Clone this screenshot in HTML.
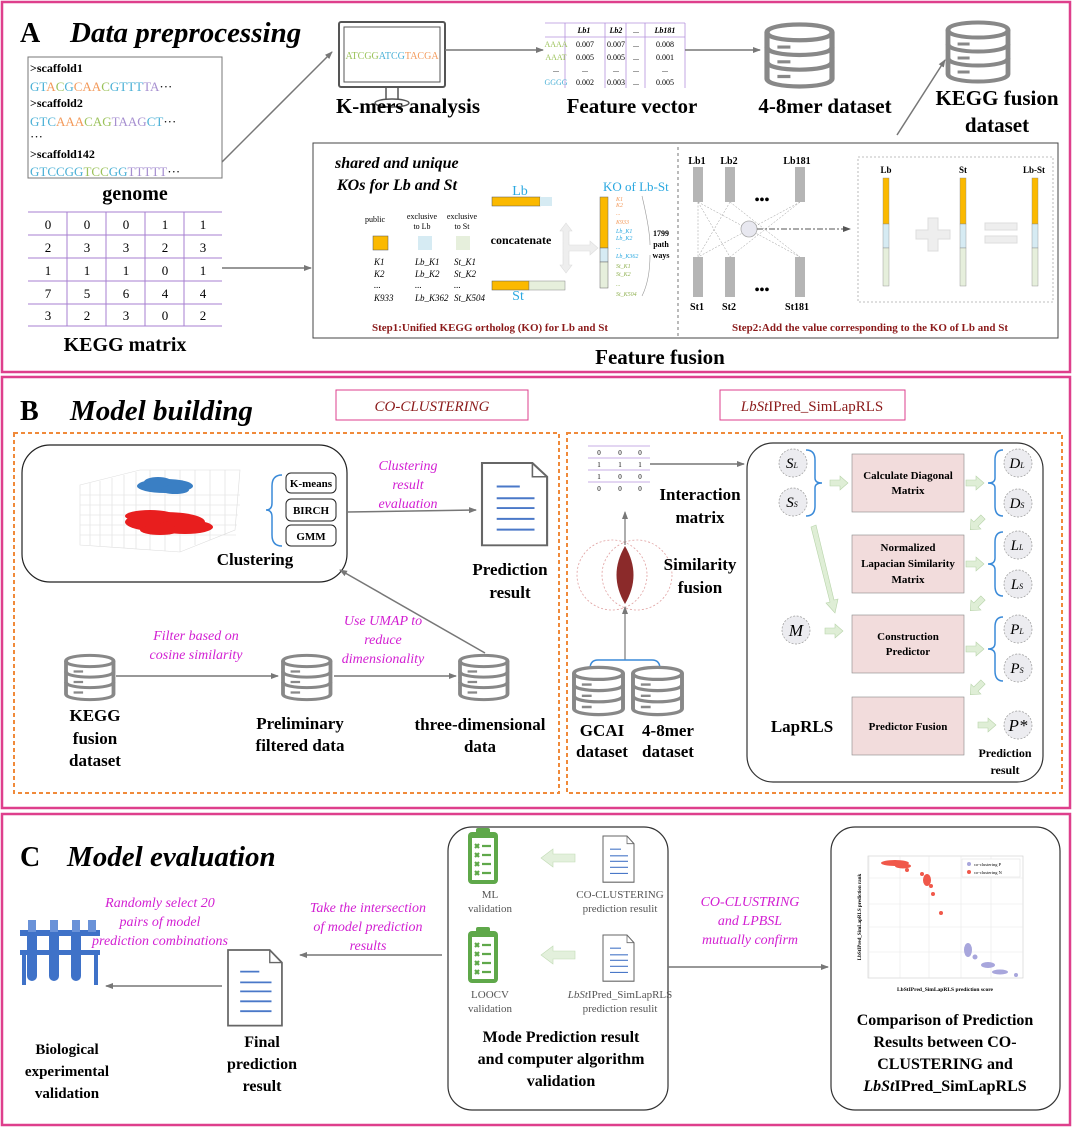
<!DOCTYPE html>
<html><head><meta charset="utf-8"><style>
html,body{margin:0;padding:0;background:#fff;}
svg{display:block;}
text{font-family:"Liberation Serif",serif;}
.b{font-weight:bold;}
.mg{fill:#d21fd2;font-style:italic;font-size:14px;}
.t{font-size:7px;font-style:italic;}
</style></head><body>
<svg width="1080" height="1127" viewBox="0 0 1080 1127" xmlns="http://www.w3.org/2000/svg">
<defs>
<marker id="ar" markerWidth="8" markerHeight="8" refX="7" refY="4" orient="auto" markerUnits="userSpaceOnUse"><path d="M0,1 L8,4 L0,7 z" fill="#777"/></marker>
<marker id="ard" markerWidth="8" markerHeight="8" refX="7" refY="4" orient="auto" markerUnits="userSpaceOnUse"><path d="M0,1 L8,4 L0,7 z" fill="#555"/></marker>
<g id="db">
<path d="M0,8 C0,-2 50,-2 50,8 L50,52 C50,62 0,62 0,52 Z" fill="#fff" stroke="#888" stroke-width="4"/>
<path d="M0,8 C0,18 50,18 50,8" fill="none" stroke="#888" stroke-width="4"/>
<path d="M0,22 C0,32 50,32 50,22 M0,36 C0,46 50,46 50,36" fill="none" stroke="#888" stroke-width="4"/>
<path d="M8,22 h10 M8,36 h10 M8,50 h10" stroke="#888" stroke-width="3"/>
</g>
<g id="doc">
<path d="M0,0 H48 L62,14 V84 H0 Z" fill="#fff" stroke="#666" stroke-width="2"/>
<path d="M48,0 V14 H62" fill="none" stroke="#666" stroke-width="1.5"/>
<path d="M14,24 h22 M14,36 h36 M14,46 h36 M14,57 h36 M14,68 h36" stroke="#4a78c8" stroke-width="2"/>
</g>
<g id="clip">
<rect x="2" y="6" width="30" height="52" rx="4" fill="#5fa84a"/>
<rect x="6" y="12" width="22" height="42" fill="#fff"/>
<rect x="10" y="2" width="14" height="8" rx="2" fill="#5fa84a"/>
<g stroke="#5fa84a" stroke-width="2.2"><path d="M9,18 l4,4 m0,-4 l-4,4 M9,27 l4,4 m0,-4 l-4,4 M9,36 l4,4 m0,-4 l-4,4 M9,45 l4,4 m0,-4 l-4,4 M16,20 h9 M16,29 h9 M16,38 h9 M16,47 h9"/></g>
</g>
<g id="garr"><path d="M0,-3 H10 V-7 L18,0 L10,7 V3 H0 Z" fill="#dfeed6" stroke="#b8d4aa" stroke-width="0.6"/></g>
<g id="garrl"><path d="M34,-4 H12 V-9 L0,0 L12,9 V4 H34 Z" fill="#e3f0dc" stroke="#c2dbb5" stroke-width="0.6"/></g>
</defs>

<!-- Section frames -->
<rect x="2" y="2" width="1068" height="370" fill="none" stroke="#de3f8c" stroke-width="2.5"/>
<rect x="2" y="377" width="1068" height="431" fill="none" stroke="#de3f8c" stroke-width="2.5"/>
<rect x="2" y="814" width="1068" height="311" fill="none" stroke="#de3f8c" stroke-width="2.5"/>

<!-- ===== A ===== -->
<text x="20" y="42" font-size="28" class="b">A</text>
<text x="70" y="42" font-size="29" class="b" font-style="italic">Data preprocessing</text>

<rect x="28" y="57" width="194" height="121" fill="#fff" stroke="#777" stroke-width="1"/>
<g font-size="13">
<text x="30" y="72" class="b" font-size="12">&gt;scaffold1</text>
<text x="30" y="91" font-family="Liberation Sans"><tspan fill="#4ab0d6">GT</tspan><tspan fill="#f39a5b">A</tspan><tspan fill="#9bc25a">C</tspan><tspan fill="#4ab0d6">G</tspan><tspan fill="#f39a5b">CAA</tspan><tspan fill="#9bc25a">C</tspan><tspan fill="#4ab0d6">GTTT</tspan><tspan fill="#a68fd0">TA</tspan>···</text>
<text x="30" y="107" class="b" font-size="12">&gt;scaffold2</text>
<text x="30" y="126" font-family="Liberation Sans"><tspan fill="#4ab0d6">GTC</tspan><tspan fill="#f39a5b">AAA</tspan><tspan fill="#9bc25a">CAG</tspan><tspan fill="#a68fd0">TAAG</tspan><tspan fill="#4ab0d6">CT</tspan>···</text>
<text x="30" y="141">···</text>
<text x="30" y="158" class="b" font-size="12">&gt;scaffold142</text>
<text x="30" y="176" font-family="Liberation Sans"><tspan fill="#4ab0d6">GTCCGG</tspan><tspan fill="#9bc25a">TCC</tspan><tspan fill="#4ab0d6">GG</tspan><tspan fill="#a68fd0">TTTTT</tspan>···</text>
</g>
<text x="135" y="200" font-size="20" class="b" text-anchor="middle">genome</text>

<!-- KEGG matrix -->
<g stroke="#a77fd0" stroke-width="1">
<path d="M28,212 H222 M28,235 H222 M28,258 H222 M28,281 H222 M28,304 H222 M28,326 H222"/>
<path d="M67,212 V326 M106,212 V326 M145,212 V326 M184,212 V326"/>
</g>
<g font-size="13" text-anchor="middle" font-family="Liberation Sans">
<text x="48" y="229">0</text><text x="87" y="229">0</text><text x="126" y="229">0</text><text x="165" y="229">1</text><text x="203" y="229">1</text>
<text x="48" y="252">2</text><text x="87" y="252">3</text><text x="126" y="252">3</text><text x="165" y="252">2</text><text x="203" y="252">3</text>
<text x="48" y="275">1</text><text x="87" y="275">1</text><text x="126" y="275">1</text><text x="165" y="275">0</text><text x="203" y="275">1</text>
<text x="48" y="298">7</text><text x="87" y="298">5</text><text x="126" y="298">6</text><text x="165" y="298">4</text><text x="203" y="298">4</text>
<text x="48" y="320">3</text><text x="87" y="320">2</text><text x="126" y="320">3</text><text x="165" y="320">0</text><text x="203" y="320">2</text>
</g>
<text x="125" y="351" font-size="20" class="b" text-anchor="middle">KEGG matrix</text>

<line x1="222" y1="162" x2="332" y2="52" stroke="#777" stroke-width="1.5" marker-end="url(#ar)"/>
<!-- monitor -->
<rect x="339" y="22" width="106" height="65" rx="2" fill="#fff" stroke="#555" stroke-width="2"/>
<rect x="344" y="27" width="96" height="55" fill="#fff" stroke="#555" stroke-width="1"/>
<text x="392" y="59" font-size="10" text-anchor="middle" font-family="Liberation Sans"><tspan fill="#9bc25a">ATCGG</tspan><tspan fill="#4ab0d6">ATCG</tspan><tspan fill="#f39a5b">TACGA</tspan></text>
<path d="M386,87 V100 M398,87 V100" stroke="#555" stroke-width="1.5"/>
<ellipse cx="392" cy="103" rx="17" ry="4" fill="#fff" stroke="#555" stroke-width="1.5"/>
<text x="408" y="113" font-size="21" class="b" text-anchor="middle">K-mers analysis</text>

<line x1="445" y1="50" x2="543" y2="50" stroke="#777" stroke-width="1.5" marker-end="url(#ar)"/>
<!-- feature table -->
<g stroke="#b592dc" stroke-width="0.8"><path d="M545,37 H685 M565,23 V88 M605,23 V88 M626,23 V88 M645,23 V88 M685,23 V88 M545,23 H685"/></g>
<g font-size="8" text-anchor="middle">
<text x="584" y="33" font-style="italic" class="b">Lb1</text><text x="616" y="33" font-style="italic" class="b">Lb2</text><text x="636" y="33">...</text><text x="665" y="33" font-style="italic" class="b">Lb181</text>
<text x="556" y="47" fill="#9bc25a">AAAA</text><text x="585" y="47">0.007</text><text x="616" y="47">0.007</text><text x="636" y="47">...</text><text x="665" y="47">0.008</text>
<text x="556" y="60" fill="#9bc25a">AAAT</text><text x="585" y="60">0.005</text><text x="616" y="60">0.005</text><text x="636" y="60">...</text><text x="665" y="60">0.001</text>
<text x="556" y="72">...</text><text x="585" y="72">...</text><text x="616" y="72">...</text><text x="636" y="72">...</text><text x="665" y="72">...</text>
<text x="556" y="85" fill="#4ab0d6">GGGG</text><text x="585" y="85">0.002</text><text x="616" y="85">0.003</text><text x="636" y="85">...</text><text x="665" y="85">0.005</text>
</g>
<text x="632" y="113" font-size="21" class="b" text-anchor="middle">Feature vector</text>
<line x1="685" y1="50" x2="760" y2="50" stroke="#777" stroke-width="1.5" marker-end="url(#ar)"/>
<use href="#db" transform="translate(767,24) scale(1.3,1.05)"/>
<text x="825" y="113" font-size="21" class="b" text-anchor="middle">4-8mer dataset</text>
<use href="#db" transform="translate(948,22) scale(1.2,1.0)"/>
<text x="997" y="105" font-size="21" class="b" text-anchor="middle">KEGG fusion</text>
<text x="997" y="132" font-size="21" class="b" text-anchor="middle">dataset</text>
<line x1="897" y1="135" x2="945" y2="60" stroke="#777" stroke-width="1.5" marker-end="url(#ar)"/>

<!-- Feature fusion box -->
<rect x="313" y="143" width="745" height="195" fill="#fff" stroke="#444" stroke-width="1"/>
<line x1="222" y1="268" x2="311" y2="268" stroke="#777" stroke-width="1.5" marker-end="url(#ar)"/>
<line x1="678" y1="147" x2="678" y2="338" stroke="#555" stroke-width="0.8" stroke-dasharray="3,3"/>
<text x="660" y="364" font-size="21" class="b" text-anchor="middle">Feature fusion</text>

<text x="335" y="168" font-size="16" class="b" font-style="italic">shared and unique</text>
<text x="337" y="190" font-size="16" class="b" font-style="italic">KOs for Lb and St</text>
<text x="520" y="195" font-size="14" fill="#2aa8e0" text-anchor="middle">Lb</text>
<rect x="492" y="197" width="48" height="9" fill="#fbb900" stroke="#555" stroke-width="0.5"/><rect x="540" y="197" width="12" height="9" fill="#d6ebf3"/>
<text x="603" y="191" font-size="13" fill="#2aa8e0" font-family="Liberation Sans">KO of Lb-St</text>
<g font-size="8" text-anchor="middle">
<text x="375" y="222">public</text>
<text x="422" y="219">exclusive</text><text x="422" y="229">to Lb</text>
<text x="462" y="219">exclusive</text><text x="462" y="229">to St</text>
</g>
<rect x="373" y="236" width="15" height="14" fill="#fbb900" stroke="#555" stroke-width="0.5"/>
<rect x="418" y="236" width="14" height="14" fill="#d6ebf3"/>
<rect x="456" y="236" width="14" height="14" fill="#e6efdc"/>
<g font-size="9" font-style="italic">
<text x="374" y="265">K1</text><text x="374" y="277">K2</text><text x="374" y="288">...</text><text x="374" y="301">K933</text>
<text x="415" y="265">Lb_K1</text><text x="415" y="277">Lb_K2</text><text x="415" y="288">...</text><text x="415" y="301">Lb_K362</text>
<text x="454" y="265">St_K1</text><text x="454" y="277">St_K2</text><text x="454" y="288">...</text><text x="454" y="301">St_K504</text>
</g>
<text x="521" y="244" font-size="12" class="b" text-anchor="middle">concatenate</text>
<path d="M566,223 L572,231 L569,231 L569,245 L590,245 L590,241 L598,248 L590,255 L590,251 L569,251 L569,265 L572,265 L566,273 L560,265 L563,265 L563,231 L560,231 Z" fill="#eeeeee" stroke="#ddd" stroke-width="0.6"/>
<rect x="492" y="281" width="37" height="9" fill="#fbb900" stroke="#555" stroke-width="0.5"/><rect x="529" y="281" width="36" height="9" fill="#e6efdc" stroke="#888" stroke-width="0.5"/>
<text x="518" y="300" font-size="14" fill="#2aa8e0" text-anchor="middle">St</text>
<rect x="600" y="197" width="8" height="51" fill="#fbb900" stroke="#666" stroke-width="0.5"/>
<rect x="600" y="248" width="8" height="14" fill="#d6ebf3" stroke="#666" stroke-width="0.5"/>
<rect x="600" y="262" width="8" height="26" fill="#e6efdc" stroke="#666" stroke-width="0.5"/>
<g font-size="6" font-style="italic">
<text x="616" y="201" fill="#f39a5b">K1</text><text x="616" y="207" fill="#f39a5b">K2</text><text x="616" y="215" fill="#f39a5b">...</text><text x="616" y="224" fill="#f39a5b">K933</text>
<text x="616" y="233" fill="#2aa8e0">Lb_K1</text><text x="616" y="240" fill="#2aa8e0">Lb_K2</text><text x="616" y="249" fill="#2aa8e0">...</text><text x="616" y="258" fill="#2aa8e0">Lb_K362</text>
<text x="616" y="268" fill="#8fb050">St_K1</text><text x="616" y="276" fill="#8fb050">St_K2</text><text x="616" y="286" fill="#8fb050">...</text><text x="616" y="296" fill="#8fb050">St_K504</text>
</g>
<path d="M642,196 Q650,230 650,245 M650,255 Q650,280 642,296" fill="none" stroke="#999" stroke-width="0.6"/>
<g font-size="8" class="b" text-anchor="middle"><text x="661" y="236">1799</text><text x="661" y="247">path</text><text x="661" y="258">ways</text></g>
<text x="490" y="331" font-size="11" fill="#8b1a1a" text-anchor="middle" class="b">Step1:Unified KEGG ortholog (KO) for Lb and St</text>

<!-- Step 2 -->
<g font-size="10" class="b" text-anchor="middle"><text x="697" y="164">Lb1</text><text x="729" y="164">Lb2</text><text x="797" y="164">Lb181</text>
<text x="697" y="310">St1</text><text x="729" y="310">St2</text><text x="797" y="310">St181</text></g>
<g fill="#b5b5b5"><rect x="693" y="167" width="10" height="35"/><rect x="725" y="167" width="10" height="35"/><rect x="795" y="167" width="10" height="35"/>
<rect x="693" y="257" width="10" height="40"/><rect x="725" y="257" width="10" height="40"/><rect x="795" y="257" width="10" height="40"/></g>
<g stroke="#999" stroke-width="0.5" stroke-dasharray="2,1.5" fill="none">
<path d="M698,202 L800,257 M698,202 L730,257 M730,202 L698,257 M730,202 L800,257 M800,202 L698,257 M800,202 L730,257 M698,202 V257"/>
</g>
<text x="762" y="204" font-size="14" class="b" text-anchor="middle">•••</text>
<text x="762" y="294" font-size="14" class="b" text-anchor="middle">•••</text>
<circle cx="749" cy="229" r="8" fill="#e8e8f0" stroke="#aaa" stroke-width="0.8"/>
<line x1="757" y1="229" x2="850" y2="229" stroke="#555" stroke-width="1" stroke-dasharray="6,2,2,2" marker-end="url(#ard)"/>
<rect x="858" y="157" width="195" height="145" fill="none" stroke="#aaa" stroke-width="0.8" stroke-dasharray="2,2"/>
<g font-size="9" class="b" text-anchor="middle"><text x="886" y="173">Lb</text><text x="963" y="173">St</text><text x="1034" y="173">Lb-St</text></g>
<g stroke="#888" stroke-width="0.4">
<rect x="883" y="178" width="6" height="46" fill="#fbb900"/><rect x="883" y="224" width="6" height="24" fill="#d6ebf3"/><rect x="883" y="248" width="6" height="38" fill="#e6efdc"/>
<rect x="960" y="178" width="6" height="46" fill="#fbb900"/><rect x="960" y="224" width="6" height="24" fill="#d6ebf3"/><rect x="960" y="248" width="6" height="38" fill="#e6efdc"/>
<rect x="1032" y="178" width="6" height="46" fill="#fbb900"/><rect x="1032" y="224" width="6" height="24" fill="#d6ebf3"/><rect x="1032" y="248" width="6" height="38" fill="#e6efdc"/>
</g>
<path d="M928,218 h10 v12 h12 v9 h-12 v12 h-10 v-12 h-12 v-9 h12 z" fill="#eeeeee" stroke="#ddd"/>
<rect x="985" y="223" width="32" height="7" fill="#eeeeee" stroke="#ddd"/><rect x="985" y="236" width="32" height="7" fill="#eeeeee" stroke="#ddd"/>
<text x="870" y="331" font-size="11" fill="#8b1a1a" text-anchor="middle" class="b">Step2:Add the value corresponding to the KO of Lb and St</text>

<!-- ===== B ===== -->
<text x="20" y="420" font-size="28" class="b">B</text>
<text x="70" y="420" font-size="29" class="b" font-style="italic">Model building</text>
<rect x="336" y="390" width="192" height="30" fill="#fff" stroke="#de3f8c" stroke-width="1"/>
<text x="432" y="411" font-size="15" font-style="italic" fill="#8b1a1a" text-anchor="middle">CO-CLUSTERING</text>
<rect x="720" y="390" width="185" height="30" fill="#fff" stroke="#de3f8c" stroke-width="1"/>
<text x="812" y="411" font-size="15" fill="#8b1a1a" text-anchor="middle"><tspan font-style="italic">LbSt</tspan>IPred_SimLapRLS</text>

<rect x="14" y="433" width="545" height="360" fill="none" stroke="#f08a3a" stroke-width="2" stroke-dasharray="4,3"/>
<rect x="567" y="433" width="495" height="360" fill="none" stroke="#f08a3a" stroke-width="2" stroke-dasharray="4,3"/>

<rect x="22" y="445" width="325" height="137" rx="28" fill="#fff" stroke="#222" stroke-width="1.2"/>
<!-- 3D scatter -->
<g stroke="#ddd" stroke-width="0.6" fill="none">
<path d="M80,485 L140,470 L240,470 L235,530 L180,552 L80,545 Z"/>
<path d="M90,483 V545 M100,481 V546 M112,478 V547 M124,475 V548 M136,472 V549 M150,470 V550 M165,470 V551 M180,470 V552 M195,470 V545 M210,470 V540 M225,470 V535"/>
<path d="M80,495 H240 M80,505 H240 M80,515 H238 M80,525 H237 M80,535 H236"/>
</g>
<g fill="#3a7fc4">
<ellipse cx="165" cy="486" rx="28" ry="7"/><ellipse cx="158" cy="482" rx="14" ry="5"/><ellipse cx="175" cy="490" rx="14" ry="4"/>
</g>
<g fill="#e81e1e">
<ellipse cx="165" cy="522" rx="40" ry="10"/><ellipse cx="150" cy="516" rx="25" ry="6"/><ellipse cx="185" cy="527" rx="28" ry="7"/><ellipse cx="160" cy="530" rx="20" ry="5"/>
</g>
<path d="M282,475 Q272,475 272,486 V503 Q272,510 266,510 Q272,510 272,517 V535 Q272,546 282,546" fill="none" stroke="#3a8ad8" stroke-width="1.5"/>
<g fill="#fff" stroke="#222" stroke-width="1">
<rect x="286" y="473" width="50" height="20" rx="5"/><rect x="286" y="499" width="50" height="22" rx="5"/><rect x="286" y="525" width="50" height="21" rx="5"/>
</g>
<g font-size="11" class="b" text-anchor="middle"><text x="311" y="487">K-means</text><text x="311" y="514">BIRCH</text><text x="311" y="540">GMM</text></g>
<text x="255" y="565" font-size="17" class="b" text-anchor="middle">Clustering</text>
<line x1="347" y1="512" x2="476" y2="510" stroke="#777" stroke-width="1.5" marker-end="url(#ar)"/>
<text x="408" y="470" class="mg" text-anchor="middle">Clustering</text>
<text x="408" y="489" class="mg" text-anchor="middle">result</text>
<text x="408" y="508" class="mg" text-anchor="middle">evaluation</text>
<use href="#doc" transform="translate(482,463) scale(1.05,0.98)"/>
<text x="510" y="575" font-size="17" class="b" text-anchor="middle">Prediction</text>
<text x="510" y="598" font-size="17" class="b" text-anchor="middle">result</text>

<use href="#db" transform="translate(66,655) scale(0.95,0.75)"/>
<use href="#db" transform="translate(283,655) scale(0.95,0.75)"/>
<use href="#db" transform="translate(460,655) scale(0.95,0.75)"/>
<line x1="116" y1="676" x2="278" y2="676" stroke="#777" stroke-width="1.5" marker-end="url(#ar)"/>
<line x1="334" y1="676" x2="456" y2="676" stroke="#777" stroke-width="1.5" marker-end="url(#ar)"/>
<line x1="485" y1="653" x2="340" y2="570" stroke="#777" stroke-width="1.5" marker-end="url(#ar)"/>
<text x="196" y="640" class="mg" text-anchor="middle">Filter based on</text>
<text x="196" y="659" class="mg" text-anchor="middle">cosine similarity</text>
<text x="383" y="625" class="mg" text-anchor="middle">Use UMAP to</text>
<text x="383" y="644" class="mg" text-anchor="middle">reduce</text>
<text x="383" y="663" class="mg" text-anchor="middle">dimensionality</text>
<g font-size="17" class="b" text-anchor="middle">
<text x="95" y="721">KEGG</text><text x="95" y="744">fusion</text><text x="95" y="766">dataset</text>
<text x="300" y="729">Preliminary</text><text x="300" y="751">filtered data</text>
<text x="480" y="730">three-dimensional</text><text x="480" y="752">data</text>
</g>

<!-- right B -->
<g stroke="#b592dc" stroke-width="0.8"><path d="M588,446 H650 M588,458 H650 M588,470 H650 M588,482 H650"/></g>
<g font-size="7" text-anchor="middle"><text x="599" y="455">0</text><text x="620" y="455">0</text><text x="640" y="455">0</text>
<text x="599" y="467">1</text><text x="620" y="467">1</text><text x="640" y="467">1</text>
<text x="599" y="479">1</text><text x="620" y="479">0</text><text x="640" y="479">0</text>
<text x="599" y="491">0</text><text x="620" y="491">0</text><text x="640" y="491">0</text></g>
<line x1="650" y1="464" x2="744" y2="464" stroke="#777" stroke-width="1.5" marker-end="url(#ar)"/>
<text x="700" y="500" font-size="17" class="b" text-anchor="middle">Interaction</text>
<text x="700" y="523" font-size="17" class="b" text-anchor="middle">matrix</text>
<circle cx="612" cy="575" r="35" fill="none" stroke="#e0a0a0" stroke-width="0.8" stroke-dasharray="2,2"/>
<circle cx="637" cy="575" r="35" fill="none" stroke="#e0a0a0" stroke-width="0.8" stroke-dasharray="2,2"/>
<path d="M625,546 Q642,575 625,604 Q608,575 625,546 Z" fill="#8b2a2a"/>
<text x="700" y="570" font-size="17" class="b" text-anchor="middle">Similarity</text>
<text x="700" y="593" font-size="17" class="b" text-anchor="middle">fusion</text>
<line x1="625" y1="545" x2="625" y2="512" stroke="#777" stroke-width="1.2" marker-end="url(#ar)"/>
<line x1="625" y1="660" x2="625" y2="607" stroke="#777" stroke-width="1.2" marker-end="url(#ar)"/>
<path d="M590,669 Q590,660 598,660 H652 Q660,660 660,669" fill="none" stroke="#3a8ad8" stroke-width="1.5"/>
<use href="#db" transform="translate(574,667) scale(0.98,0.8)"/>
<use href="#db" transform="translate(633,667) scale(0.98,0.8)"/>
<g font-size="17" class="b" text-anchor="middle"><text x="602" y="736">GCAI</text><text x="602" y="757">dataset</text><text x="668" y="736">4-8mer</text><text x="668" y="757">dataset</text></g>

<rect x="747" y="443" width="296" height="339" rx="26" fill="#fff" stroke="#333" stroke-width="1.2"/>
<g fill="#ececf0" stroke="#999" stroke-width="0.7" stroke-dasharray="2,1.5">
<circle cx="793" cy="463" r="14"/><circle cx="793" cy="502" r="14"/><circle cx="796" cy="630" r="14"/>
<circle cx="1018" cy="463" r="14"/><circle cx="1018" cy="503" r="14"/><circle cx="1018" cy="545" r="14"/><circle cx="1018" cy="584" r="14"/>
<circle cx="1018" cy="629" r="14"/><circle cx="1018" cy="668" r="14"/><circle cx="1018" cy="725" r="14"/>
</g>
<g font-size="15" font-style="italic" text-anchor="middle">
<text x="792" y="468">S<tspan font-size="8">L</tspan></text><text x="792" y="507">S<tspan font-size="8">S</tspan></text><text x="796" y="636" font-size="17">M</text>
<text x="1017" y="468">D<tspan font-size="8">L</tspan></text><text x="1017" y="508">D<tspan font-size="8">S</tspan></text>
<text x="1017" y="550">L<tspan font-size="8">L</tspan></text><text x="1017" y="589">L<tspan font-size="8">S</tspan></text>
<text x="1017" y="634">P<tspan font-size="8">L</tspan></text><text x="1017" y="673">P<tspan font-size="8">S</tspan></text>
<text x="1018" y="731" font-size="17">P*</text>
</g>
<g fill="none" stroke="#3a8ad8" stroke-width="1.5">
<path d="M806,450 Q815,450 815,460 V478 Q815,483 822,483 Q815,483 815,488 V506 Q815,516 806,516"/>
<path d="M1003,450 Q995,450 995,460 V478 Q995,483 988,483 Q995,483 995,488 V506 Q995,516 1003,516"/>
<path d="M1003,532 Q995,532 995,542 V558 Q995,564 988,564 Q995,564 995,570 V586 Q995,596 1003,596"/>
<path d="M1003,617 Q995,617 995,627 V643 Q995,649 988,649 Q995,649 995,655 V671 Q995,681 1003,681"/>
</g>
<g fill="#f2dcdc" stroke="#888" stroke-width="0.6">
<rect x="852" y="454" width="112" height="58"/><rect x="852" y="535" width="112" height="58"/><rect x="852" y="615" width="112" height="58"/><rect x="852" y="697" width="112" height="58"/>
</g>
<g font-size="11" class="b" text-anchor="middle">
<text x="908" y="479">Calculate Diagonal</text><text x="908" y="494">Matrix</text>
<text x="908" y="551">Normalized</text><text x="908" y="567">Lapacian Similarity</text><text x="908" y="583">Matrix</text>
<text x="908" y="640">Construction</text><text x="908" y="655">Predictor</text>
<text x="908" y="730">Predictor Fusion</text>
</g>
<use href="#garr" transform="translate(830,483)"/>
<use href="#garr" transform="translate(825,631)"/>
<use href="#garr" transform="translate(966,483)"/>
<use href="#garr" transform="translate(966,564)"/>
<use href="#garr" transform="translate(966,649)"/>
<use href="#garr" transform="translate(978,725)"/>
<use href="#garr" transform="translate(983,517) rotate(135)"/>
<use href="#garr" transform="translate(983,598) rotate(135)"/>
<use href="#garr" transform="translate(983,682) rotate(135)"/>
<path d="M811,527 L816,525 L834,600 L838,599 L835,613 L826,603 L830,602 Z" fill="#dfeed6" stroke="#b8d4aa" stroke-width="0.6"/>
<text x="802" y="732" font-size="17" class="b" text-anchor="middle">LapRLS</text>
<text x="1005" y="757" font-size="12" class="b" text-anchor="middle">Prediction</text>
<text x="1005" y="774" font-size="12" class="b" text-anchor="middle">result</text>

<!-- ===== C ===== -->
<text x="20" y="866" font-size="28" class="b">C</text>
<text x="67" y="866" font-size="29" class="b" font-style="italic">Model evaluation</text>

<g fill="#3f72c8">
<rect x="20" y="930" width="80" height="6"/>
<rect x="28" y="920" width="8" height="12" fill="#6a92d8"/><rect x="50" y="920" width="8" height="12" fill="#6a92d8"/><rect x="72" y="920" width="8" height="12" fill="#6a92d8"/><rect x="88" y="920" width="8" height="12" fill="#6a92d8"/>
<path d="M27,936 h10 v40 a5,5 0 0 1 -10,0 z M49,936 h10 v40 a5,5 0 0 1 -10,0 z M71,936 h10 v40 a5,5 0 0 1 -10,0 z"/>
<rect x="20" y="950" width="80" height="5"/>
<rect x="22" y="955" width="4" height="30"/><rect x="94" y="955" width="4" height="30"/>
</g>
<g font-size="15" class="b" text-anchor="middle"><text x="67" y="1054">Biological</text><text x="67" y="1076">experimental</text><text x="67" y="1098">validation</text></g>
<text x="160" y="907" class="mg" text-anchor="middle">Randomly select 20</text>
<text x="160" y="926" class="mg" text-anchor="middle">pairs of model</text>
<text x="160" y="945" class="mg" text-anchor="middle">prediction combinations</text>
<line x1="222" y1="986" x2="106" y2="986" stroke="#777" stroke-width="1.5" marker-end="url(#ar)"/>
<use href="#doc" transform="translate(228,950) scale(0.87,0.9)"/>
<g font-size="16" class="b" text-anchor="middle"><text x="262" y="1047">Final</text><text x="262" y="1069">prediction</text><text x="262" y="1091">result</text></g>
<text x="368" y="912" class="mg" text-anchor="middle">Take the intersection</text>
<text x="368" y="931" class="mg" text-anchor="middle">of model prediction</text>
<text x="368" y="950" class="mg" text-anchor="middle">results</text>
<line x1="442" y1="955" x2="300" y2="955" stroke="#777" stroke-width="1.5" marker-end="url(#ar)"/>

<rect x="448" y="827" width="220" height="283" rx="24" fill="#fff" stroke="#333" stroke-width="1.2"/>
<use href="#clip" transform="translate(466,826)"/>
<use href="#clip" transform="translate(466,925)"/>
<use href="#doc" transform="translate(603,836) scale(0.5,0.55)"/>
<use href="#doc" transform="translate(603,935) scale(0.5,0.55)"/>
<use href="#garrl" transform="translate(541,858)"/>
<use href="#garrl" transform="translate(541,955)"/>
<g font-size="11" fill="#555" text-anchor="middle" font-family="Liberation Serif">
<text x="490" y="898">ML</text><text x="490" y="912">validation</text>
<text x="490" y="998">LOOCV</text><text x="490" y="1012">validation</text>
<text x="620" y="898">CO-CLUSTERING</text><text x="620" y="912">prediction resulit</text>
<text x="620" y="998"><tspan font-style="italic">LbSt</tspan>IPred_SimLapRLS</text><text x="620" y="1012">prediction resulit</text>
</g>
<g font-size="16" class="b" text-anchor="middle"><text x="561" y="1042">Mode Prediction result</text><text x="561" y="1064">and computer algorithm</text><text x="561" y="1086">validation</text></g>
<line x1="668" y1="967" x2="828" y2="967" stroke="#777" stroke-width="1.5" marker-end="url(#ar)"/>
<text x="750" y="906" class="mg" text-anchor="middle">CO-CLUSTRING</text>
<text x="750" y="925" class="mg" text-anchor="middle">and LPBSL</text>
<text x="750" y="944" class="mg" text-anchor="middle">mutually confirm</text>

<rect x="831" y="827" width="229" height="283" rx="24" fill="#fff" stroke="#333" stroke-width="1.2"/>
<rect x="868" y="856" width="155" height="122" fill="#fff" stroke="#ccc" stroke-width="0.6"/>
<g stroke="#e8e8e8" stroke-width="0.6"><path d="M868,878 H1023 M868,904 H1023 M868,927 H1023 M868,952 H1023 M869,856 V978 M900,856 V978 M929,856 V978 M961,856 V978 M991,856 V978"/></g>
<g fill="#f0584a">
<ellipse cx="895" cy="863" rx="14" ry="3"/><ellipse cx="903" cy="866" rx="8" ry="2.5"/><circle cx="907" cy="870" r="2"/>
<circle cx="922" cy="874" r="2"/><ellipse cx="927" cy="880" rx="4" ry="6"/><circle cx="931" cy="886" r="2"/><circle cx="933" cy="894" r="2"/><circle cx="941" cy="913" r="2"/>
</g>
<g fill="#a8a6dc">
<ellipse cx="968" cy="950" rx="4" ry="7"/><circle cx="975" cy="957" r="2.5"/><ellipse cx="988" cy="965" rx="7" ry="3"/><ellipse cx="1000" cy="972" rx="8" ry="2.5"/><circle cx="1016" cy="975" r="2"/>
</g>
<rect x="962" y="859" width="58" height="18" fill="#fff" stroke="#ddd" stroke-width="0.5"/>
<circle cx="969" cy="864" r="2" fill="#a8a6dc"/><circle cx="969" cy="872" r="2" fill="#f0584a"/>
<g font-size="4.5"><text x="974" y="866">co-clustering P</text><text x="974" y="874">co-clustering N</text></g>
<text x="861" y="917" font-size="5" class="b" text-anchor="middle" transform="rotate(-90 861 917)">LbStIPred_SimLapRLS prediction rank</text>
<text x="945" y="991" font-size="5.5" class="b" text-anchor="middle">LbStIPred_SimLapRLS prediction score</text>
<g font-size="16" class="b" text-anchor="middle">
<text x="945" y="1025">Comparison of Prediction</text><text x="945" y="1047">Results between CO-</text><text x="945" y="1069">CLUSTERING and</text><text x="945" y="1091"><tspan font-style="italic">LbSt</tspan>IPred_SimLapRLS</text>
</g>
</svg>
</body></html>
